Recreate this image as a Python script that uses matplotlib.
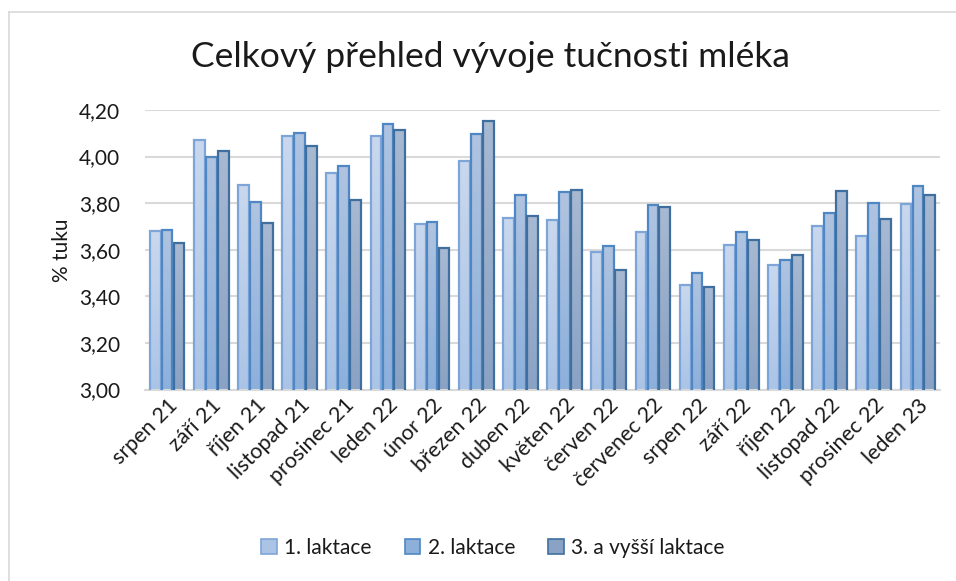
import matplotlib
matplotlib.use("Agg")
import matplotlib.pyplot as plt
import numpy as np
from matplotlib.patches import Rectangle
from matplotlib.lines import Line2D
from matplotlib.colors import LinearSegmentedColormap

categories = ["srpen 21", "září 21", "říjen 21", "listopad 21", "prosinec 21",
              "leden 22", "únor 22", "březen 22", "duben 22", "květen 22",
              "červen 22", "červenec 22", "srpen 22", "září 22", "říjen 22",
              "listopad 22", "prosinec 22", "leden 23"]
lak1 = [3.68, 4.07, 3.877, 4.088, 3.931, 4.09, 3.712, 3.983, 3.735, 3.729,
        3.589, 3.675, 3.45, 3.62, 3.536, 3.70, 3.659, 3.795]
lak2 = [3.685, 4.00, 3.806, 4.103, 3.96, 4.14, 3.719, 4.099, 3.837, 3.85,
        3.618, 3.792, 3.502, 3.675, 3.556, 3.756, 3.802, 3.874]
lak3 = [3.63, 4.025, 3.716, 4.047, 3.814, 4.114, 3.609, 4.153, 3.745, 3.858,
        3.512, 3.785, 3.439, 3.64, 3.576, 3.851, 3.73, 3.835]
series_names = ["1. laktace", "2. laktace", "3. a vyšší laktace"]
yticks = [3.00, 3.20, 3.40, 3.60, 3.80, 4.00, 4.20]

FONT = ["Lato", "DejaVu Sans"]
plt.rcParams['font.family'] = FONT

W, H = 956, 581
fig = plt.figure(figsize=(W / 100, H / 100), dpi=100)
ax = fig.add_axes([145 / W, 1 - 389.5 / H, (940 - 145) / W, (389.5 - 110) / H])

styles = [
    dict(top="#c9d8ee", bot="#abc4e6", edge="#7ea5d8"),
    dict(top="#b0c4e0", bot="#8db0db", edge="#4f87c4"),
    dict(top="#a8b9d2", bot="#8aa2c4", edge="#3f6f9f"),
]

n = len(categories)
x = np.arange(n)
bw = 0.27
ymin, ymax = 3.0, 4.2

grad = np.linspace(1, 0, 256).reshape(-1, 1)
for i, (vals, st) in enumerate(zip([lak1, lak2, lak3], styles)):
    cmap = LinearSegmentedColormap.from_list("g%d" % i, [st["bot"], st["top"]])
    offs = (i - 1) * bw
    bars = ax.bar(x + offs, vals, width=bw * 0.9, bottom=0, color="none",
                  edgecolor=st["edge"], linewidth=1.6, zorder=4)
    for b, v in zip(bars, vals):
        bx = b.get_x()
        im = ax.imshow(grad, extent=[bx, bx + b.get_width(), ymin, v],
                       aspect="auto", cmap=cmap, vmin=0, vmax=1, zorder=3,
                       interpolation="bilinear")
        im.set_clip_path(b)
ax.set_xlim(-0.5, n - 0.5)
ax.set_ylim(ymin, ymax)

ax.set_yticks(yticks)
ax.set_yticklabels([("%.2f" % t).replace(".", ",") for t in yticks],
                   fontsize=15, color="#1a1a1a")
ax.yaxis.grid(True, color="#d9d9d9", linewidth=1.5, zorder=0)
ax.set_axisbelow(True)
for s in ["top", "right", "left"]:
    ax.spines[s].set_visible(False)
ax.spines["bottom"].set_color("#d9d9d9")
ax.spines["bottom"].set_linewidth(1.5)
ax.tick_params(axis="y", length=0, pad=18)
ax.tick_params(axis="x", length=0, pad=4)
ax.set_xticks(x)
ax.set_xticklabels(categories, rotation=45, ha="right", va="top",
                   rotation_mode="anchor", fontsize=15.5, color="#1a1a1a")

ax.set_ylabel("% tuku", fontsize=15, color="#1a1a1a", labelpad=5)

fig.text(490 / W, 1 - 57 / H, "Celkový přehled vývoje tučnosti mléka",
         ha="center", va="center", fontsize=25.5, color="#1a1a1a")

handles = [Rectangle((0, 0), 1, 1, facecolor=st["bot"], edgecolor=st["edge"],
                     linewidth=1.2) for st in styles]
fig.legend(handles, series_names, loc="center", bbox_to_anchor=(493 / W, 1 - 548 / H),
           ncol=3, frameon=False, fontsize=15, handlelength=0.75, handleheight=0.75,
           columnspacing=1.6, handletextpad=0.35, labelcolor="#1a1a1a")

# chart border (top and left visible)
fig.add_artist(Line2D([9 / W, 1], [1 - 12 / H, 1 - 12 / H], color="#d9d9d9", lw=1.2))
fig.add_artist(Line2D([9 / W, 9 / W], [0, 1 - 12 / H], color="#d9d9d9", lw=1.2))

fig.savefig("out.png", dpi=100)
